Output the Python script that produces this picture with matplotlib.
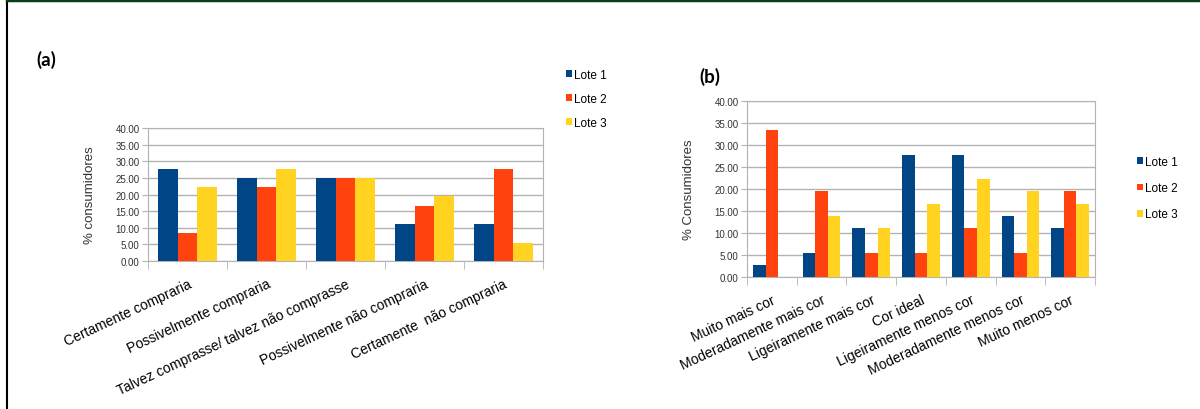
import matplotlib.pyplot as plt
import numpy as np
from matplotlib.ticker import FormatStrFormatter

plt.rcParams['font.family'] = ['Liberation Sans', 'DejaVu Sans']

# dados
lotes = ['Lote 1', 'Lote 2', 'Lote 3']
cores = ['#004586', '#ff420e', '#ffd320']

cat_a = ['Certamente compraria', 'Possivelmente compraria',
         'Talvez comprasse/ talvez não comprasse', 'Possivelmente não compraria',
         'Certamente  não compraria']
lote1_a = [27.78, 25.00, 25.00, 11.11, 11.11]
lote2_a = [8.33, 22.22, 25.00, 16.67, 27.78]
lote3_a = [22.22, 27.78, 25.00, 19.44, 5.56]

cat_b = ['Muito mais cor', 'Moderadamente mais cor', 'Ligeiramente mais cor',
         'Cor ideal', 'Ligeiramente menos cor', 'Moderadamente menos cor',
         'Muito menos cor']
lote1_b = [2.78, 5.56, 11.11, 27.78, 27.78, 13.89, 11.11]
lote2_b = [33.33, 19.44, 5.56, 5.56, 11.11, 5.56, 19.44]
lote3_b = [0.00, 13.89, 11.11, 16.67, 22.22, 19.44, 16.67]

W, H = 1200, 410
fig = plt.figure(figsize=(W / 100, H / 100), dpi=100)


def painel(rect, cats, series, ylabel, letra, letra_pos, leg_pos, leg_sp):
    ax = fig.add_axes(rect)
    x = np.arange(len(cats))
    w = 0.253
    for i, (vals, cor, nome) in enumerate(zip(series, cores, lotes)):
        ax.bar(x + (i - 1) * w, vals, w, color=cor, label=nome, zorder=3)
    ax.set_xlim(-0.5, len(cats) - 0.5)
    ax.set_ylim(0, 40)
    ax.set_yticks(np.arange(0, 41, 5))
    ax.yaxis.set_major_formatter(FormatStrFormatter('%.2f'))
    ax.tick_params(axis='y', labelsize=7, colors='#b3b3b3', labelcolor='#333333',
                   length=4, pad=2)
    ax.set_xticks(x)
    ax.set_xticklabels(cats, rotation=25, ha='right', va='top',
                       rotation_mode='anchor', fontsize=10, color='#000000')
    ax.tick_params(axis='x', which='major', length=0, pad=11)
    ax.set_xticks(np.arange(-0.5, len(cats)), minor=True)
    ax.tick_params(axis='x', which='minor', length=6, color='#b3b3b3')
    ax.grid(axis='y', color='#b3b3b3', lw=1, zorder=0)
    for s in ax.spines.values():
        s.set_color('#b3b3b3')
    ax.set_ylabel(ylabel, fontsize=9.5, color='#333333', labelpad=14)
    fig.text(letra_pos[0] / W, 1 - letra_pos[1] / H, letra, fontsize=13.5,
             fontweight='bold', family='Lato', ha='left', va='center')
    ax.legend(loc='upper left', bbox_to_anchor=(leg_pos[0] / W, 1 - leg_pos[1] / H),
              bbox_transform=fig.transFigure, frameon=False, fontsize=8.5,
              handlelength=0.5, handleheight=0.5, handletextpad=0.2,
              labelspacing=leg_sp, borderpad=0, borderaxespad=0)
    return ax


painel([148 / W, 1 - 262 / H, 395 / W, 133 / H], cat_a,
       [lote1_a, lote2_a, lote3_a], '% consumidores', '(a)', (36, 60),
       (566, 70), 1.0)
painel([747 / W, 1 - 278 / H, 348 / W, 176 / H], cat_b,
       [lote1_b, lote2_b, lote3_b], '% Consumidores', '(b)', (699, 77),
       (1137, 157), 1.2)

# moldura
fig.add_artist(plt.Line2D([7 / W, 7 / W], [0, 1], color='black', lw=1.5))
fig.add_artist(plt.Line2D([7 / W, 1], [1 - 1 / H, 1 - 1 / H], color='#0b3d17', lw=2.5))

fig.savefig('out.png', dpi=100)
